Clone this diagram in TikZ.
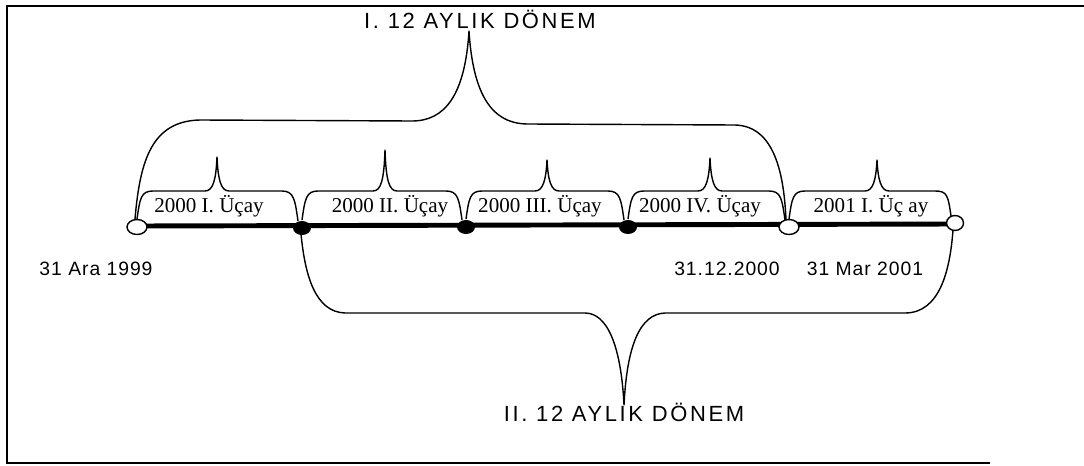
\documentclass[tikz,border=0pt]{standalone}
\usepackage{fontspec}
\setmainfont{Liberation Serif}
\newfontfamily\headfont[LetterSpace=12]{Liberation Sans}
\newfontfamily\datefont[LetterSpace=5]{Liberation Sans}
\usepackage{tikz}
\usetikzlibrary{calc,shapes.geometric}

\begin{document}
\begin{tikzpicture}[
		x=0.02cm,y=-0.02cm,
		frame/.style={draw=black,line width=1.1pt},
		axis/.style={draw=black,line width=2.8pt},
		brace/.style={draw=black,line width=0.8pt,line join=round},
		openpt/.style={ellipse,draw=black,fill=white,line width=0.8pt,inner sep=0pt,minimum width=0.4cm,minimum height=0.3cm},
		fullpt/.style={ellipse,fill=black,inner sep=0pt,minimum width=0.36cm,minimum height=0.28cm},
		seg/.style={font=\fontsize{12}{14}\selectfont,anchor=base,inner sep=0pt},
		head/.style={font=\headfont\fontsize{12.5}{14}\selectfont,anchor=base,inner sep=0pt},
		date/.style={font=\datefont\fontsize{11}{13}\selectfont,anchor=base,inner sep=0pt}]
	\useasboundingbox (0,0) rectangle (1084,466);
	\draw[frame] (1084,6) -- (7,6) -- (7,463) -- (990,463);
	% timeline
	\coordinate (p0) at (137,227);
	\coordinate (p1) at (302,228);
	\coordinate (p2) at (466,227);
	\coordinate (p3) at (628,227);
	\coordinate (p4) at (789,227);
	\coordinate (p5) at (955,223);
	\draw[axis] (137,226) -- (955,224);
	\node[openpt] (d0) at (p0) {};
	\node[fullpt] (d1) at (p1) {};
	\node[fullpt] (d2) at (p2) {};
	\node[fullpt] (d3) at (p3) {};
	\node[openpt] (d4) at (p4) {};
	\node[openpt,minimum width=0.34cm] (d5) at (p5) {};
	% quarters
	\foreach \a/\b/\tx/\ty/\lx/\txt [count=\i] in {
			0/1/217/157/209/{2000 I. Üçay},
			1/2/385/150/390/{2000 II. Üçay},
			2/3/547/160/540/{2000 III. Üçay},
			3/4/710/158/700/{2000 IV. Üçay},
			4/5/877/160/871/{2001 I. Üç ay}} {
		\coordinate (t\i) at (\tx,\ty);
		\node[seg] (s\i) at (\lx,212) {\txt};
		\draw[brace] ($(d\a)+(0,-8)$) .. controls +(3,-21) and +(-12,0) .. ($(d\a |- 0,191)+(16,0)$)
		-- (\tx-12,191) .. controls (\tx-4,191) and (\tx-1,180) .. (t\i)
		.. controls (\tx+1,180) and (\tx+4,191) .. (\tx+12,191)
		-- ($(d\b |- 0,191)+(-20,0)$) .. controls +(12,0) and +(-3,-21) .. ($(d\b)+(-4,-7)$);
	}
	% 12 month periods
	\node[head] (first) at (480,29) {I. 12 AYLIK DÖNEM};
	\node[head] (second) at (624,421) {II. 12 AYLIK DÖNEM};
	\coordinate (tp) at (469,31);
	\coordinate (bp) at (624,405);
	\draw[brace] ($(d0)+(-2,-8)$) .. controls (140,160) and (152,121) .. (200,120)
	-- (412,121) .. controls (445,121) and (465,95) .. (tp)
	.. controls (473,95) and (492,124) .. (528,124)
	-- (735,125) .. controls (775,126) and (784,175) .. ($(d4)+(-3,-7)$);
	\draw[brace] ($(d1)+(-1,6)$) .. controls (305,275) and (315,312) .. (345,313)
	-- (585,313) .. controls (607,313) and (621,345) .. (bp)
	.. controls (627,345) and (640,314) .. (665,313)
	-- (905,313) .. controls (940,313) and (950,270) .. ($(d5)+(-2,7)$);
	% dates
	\node[date] (start) at (96,275) {31 Ara 1999};
	\node[date] (yearend) at (727,275) {31.12.2000};
	\node[date] (quarterend) at (865,275) {31 Mar 2001};
\end{tikzpicture}
\end{document}
